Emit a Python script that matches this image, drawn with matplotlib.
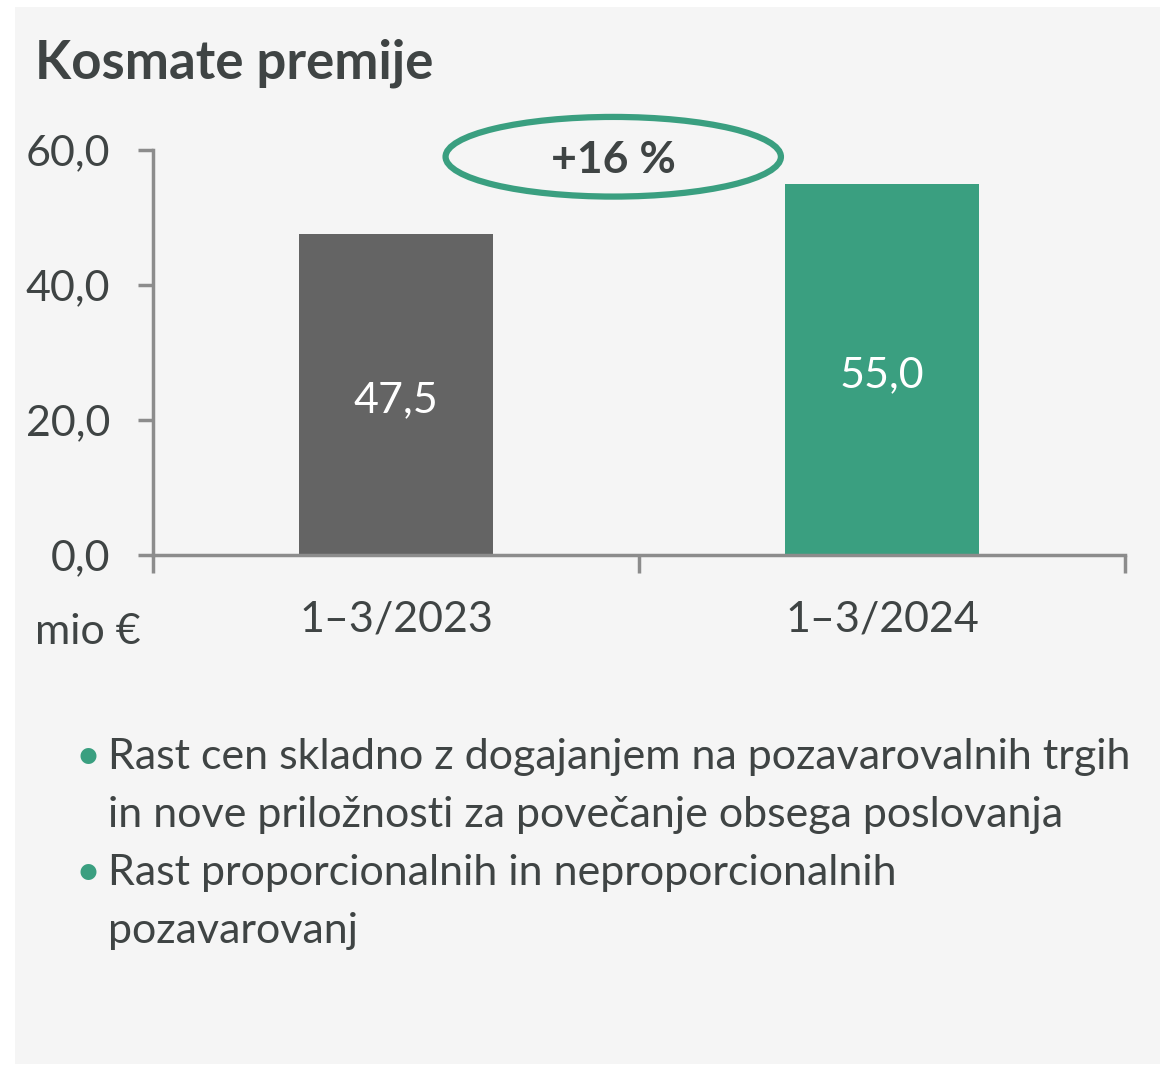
import matplotlib
matplotlib.use("Agg")
import matplotlib.pyplot as plt
from matplotlib.patches import Ellipse, Rectangle

# data
categories = ["1–3/2023", "1–3/2024"]
values = [47.5, 55.0]
bar_colors = ["#646464", "#3a9f80"]
y_ticks = [0, 20, 40, 60]
title = "Kosmate premije"
unit = "mio €"
bullets = [
    ["Rast cen skladno z dogajanjem na pozavarovalnih trgih",
     "in nove priložnosti za povečanje obsega poslovanja"],
    ["Rast proporcionalnih in neproporcionalnih",
     "pozavarovanj"],
]

TXT = "#3f4444"
GREEN = "#3a9f80"
FONT = "Lato"
FS = 31

plt.rcParams["font.family"] = [FONT, "DejaVu Sans"]

fig = plt.figure(figsize=(11.62, 10.66), dpi=100)
W, H = 1162, 1066

# light grey panel behind everything
fig.patches.append(Rectangle((15 / W, 1 - 1064 / H), (1160 - 15) / W, (1064 - 7) / H,
                             transform=fig.transFigure, facecolor="#f5f5f5",
                             edgecolor="none", zorder=-5))

ax = fig.add_axes([153 / W, 1 - 555 / H, (1125 - 153) / W, (555 - 150) / H])
ax.set_facecolor("none")

x = list(range(len(categories)))
bars = ax.bar(x, values, width=0.4, color=bar_colors, zorder=2)
for xi, v in zip(x, values):
    ax.annotate(f"{v:.1f}".replace(".", ","), (xi, v / 2), xytext=(0, -4),
                textcoords="offset points", ha="center", va="center",
                color="white", fontsize=FS, zorder=4)

ax.set_xlim(-0.5, len(categories) - 0.5)
ax.set_ylim(0, 60)
ax.set_yticks(y_ticks)
ax.set_yticklabels([f"{t:.1f}".replace(".", ",") for t in y_ticks])

# boundaries ticks on x, labels as minor ticks
ax.set_xticks([i - 0.5 for i in range(len(categories) + 1)])
ax.set_xticklabels([])
ax.set_xticks(x, minor=True)
ax.set_xticklabels(categories, minor=True)

axis_col = "#8c8c8c"
for side in ["top", "right"]:
    ax.spines[side].set_visible(False)
for side in ["left", "bottom"]:
    ax.spines[side].set_color(axis_col)
    ax.spines[side].set_linewidth(2.5)

ax.tick_params(axis="y", length=11, width=2.5, color=axis_col, labelcolor=TXT,
               labelsize=FS, pad=20)
ax.tick_params(axis="x", which="major", length=13, width=2.5, color=axis_col)
ax.tick_params(axis="x", which="minor", length=0, labelcolor=TXT, labelsize=FS, pad=33)

# growth ellipse
growth = (values[1] / values[0] - 1) * 100
ell = Ellipse((0.447, 59.0), 0.69, 11.8, fill=False, edgecolor=GREEN,
              linewidth=4.5, clip_on=False, zorder=3)
ax.add_patch(ell)
ax.annotate(f"+{growth:.0f} %", (0.447, 59.0), xytext=(0, -2),
            textcoords="offset points", ha="center", va="center", fontsize=32,
            fontweight="bold", color=TXT, annotation_clip=False)

fig.text(35 / W, 1 - 63 / H, title, fontsize=38, fontweight="bold", color=TXT,
         ha="left", va="center")
fig.text(35 / W, 1 - 632 / H, unit, fontsize=FS, color=TXT, ha="left", va="center")

# bullet list
line_y = 757
for item in bullets:
    for j, line in enumerate(item):
        if j == 0:
            fig.text(88 / W, 1 - line_y / H, "•", fontsize=FS, color=GREEN,
                     ha="center", va="center")
        fig.text(108 / W, 1 - line_y / H, line, fontsize=FS, color=TXT,
                 ha="left", va="center")
        line_y += 58

fig.savefig("out.png", dpi=100)
